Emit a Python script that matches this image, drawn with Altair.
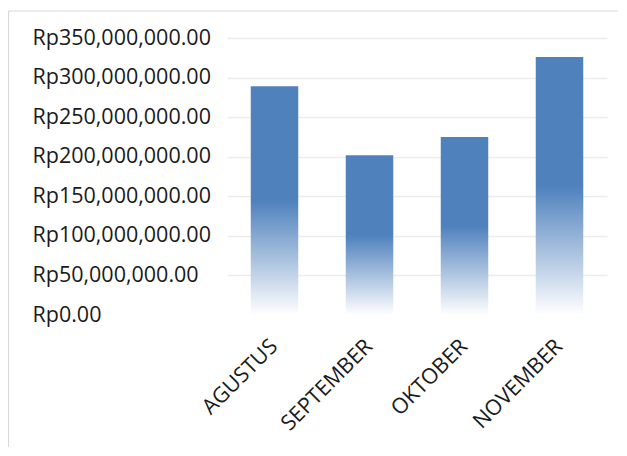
import altair as alt
import pandas as pd

months = ["AGUSTUS", "SEPTEMBER", "OKTOBER", "NOVEMBER"]
values = [289_000_000, 202_000_000, 225_000_000, 326_000_000]
y_ticks = [0, 50_000_000, 100_000_000, 150_000_000, 200_000_000,
           250_000_000, 300_000_000, 350_000_000]

df = pd.DataFrame({"bulan": months, "nilai": values})

FONT = "Open Sans"
BLUE = "#4F81BD"

grad = alt.Gradient(
    gradient="linear",
    x1=0, y1=0, x2=0, y2=1,
    stops=[
        alt.GradientStop(color=BLUE, offset=0),
        alt.GradientStop(color=BLUE, offset=0.5),
        alt.GradientStop(color="#ffffff", offset=1),
    ],
)

bars = alt.Chart(df).mark_bar(color=grad).encode(
    x=alt.X(
        "bulan:N",
        sort=months,
        title=None,
        scale=alt.Scale(paddingInner=0.5, paddingOuter=0.25),
        axis=alt.Axis(
            labelAngle=-45,
            labelBaseline="middle",
            labelPadding=28,
            ticks=False,
            tickSize=0,
            domain=False,
            grid=False,
            labelFont=FONT,
            labelFontSize=21.5,
            labelColor="#1a1a1a",
        ),
    ),
    y=alt.Y(
        "nilai:Q",
        title=None,
        scale=alt.Scale(domain=[0, 350_000_000], nice=False),
        axis=alt.Axis(
            values=y_ticks,
            labelExpr="'Rp' + format(datum.value, ',.2f')",
            labelAlign="left",
            labelPadding=195,
            ticks=False,
            tickSize=0,
            domain=False,
            grid=True,
            gridColor="#ececec",
            gridWidth=1.3,
            gridOpacity=alt.condition("datum.value === 0", alt.value(0), alt.value(1)),
            labelFont=FONT,
            labelFontSize=21.5,
            labelColor="#1a1a1a",
        ),
    ),
)

one = pd.DataFrame({"k": [0]})
border_top = alt.Chart(one).mark_rule(color="#d9d9d9", strokeWidth=1).encode(
    x=alt.value(-218.5), x2=alt.value(391), y=alt.value(-27)
)
border_left = alt.Chart(one).mark_rule(color="#d9d9d9", strokeWidth=1.2).encode(
    x=alt.value(-218.5), y=alt.value(-27), y2=alt.value(409)
)

chart = alt.layer(border_top, border_left, bars).properties(
    width=380,
    height=277,
    autosize=alt.AutoSizeParams(type="none"),
    padding={"left": 219, "top": 30, "right": 12, "bottom": 132},
).configure_view(stroke=None)

chart.save("out.html", embed_options={"renderer": "svg", "actions": False})
